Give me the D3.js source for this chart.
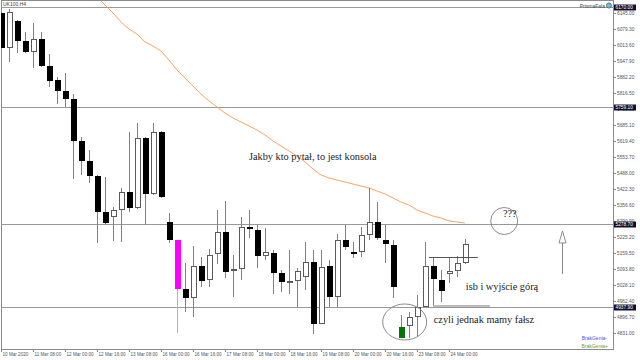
<!DOCTYPE html>
<html>
<head>
<meta charset="utf-8">
<script src="https://cdn.jsdelivr.net/npm/d3@7"></script>
<style>
body { margin: 0; background: #fff; }
svg { display: block; }
text { font-family: "Liberation Sans", Arial, sans-serif; }
text.note { font-family: "Liberation Serif", "Times New Roman", serif; }
</style>
</head>
<body>
<script>
// UK100,H4 candles, 10 Mar 16:00 .. 24 Mar 08:00
var open = [6145.0, 6001.3, 6112.2, 6030.1, 5984.9, 6038.3, 5927.4, 5869.9, 5824.8, 5791.9,
  5619.5, 5537.3, 5475.7, 5327.9, 5307.4, 5336.1, 5410.0, 5344.4, 5631.8, 5401.8,
  5656.4, 5286.9, 5212.9, 5011.8, 4974.8, 5106.2, 5048.7, 5155.5, 5245.8, 5085.7,
  5093.9, 5266.3, 5254.0, 5147.3, 5159.6, 5077.5, 5040.5, 5044.6, 5061.0, 5122.6,
  4868.1, 5106.2, 4978.9, 5212.9, 5165.7, 5163.7, 5233.5, 5286.9, 5212.9, 5192.4,
  4810.6, 4859.8, 4896.8, 4937.9, 5106.2, 5048.7, 5073.4, 5085.7, 5118.5];
var high = [6149.1, 6161.4, 6116.3, 6067.0, 6104.0, 6067.0, 5976.7, 5882.2, 5898.7, 5812.4,
  5635.9, 5582.5, 5479.9, 5471.6, 5348.5, 5426.5, 5656.4, 5693.4, 5635.9, 5693.4,
  5660.5, 5323.8, 5212.9, 5118.5, 5188.3, 5143.1, 5176.0, 5336.1, 5373.1, 5151.4,
  5307.4, 5336.1, 5274.5, 5262.2, 5171.9, 5089.8, 5171.9, 5098.0, 5204.7, 5171.9,
  5171.9, 5130.8, 5237.6, 5274.5, 5204.7, 5266.3, 5426.5, 5369.0, 5274.5, 5212.9,
  4905.0, 4917.3, 4987.1, 5204.7, 5143.1, 5089.8, 5143.1, 5147.3, 5217.1];
var low = [6000.0, 5943.8, 5980.8, 5980.8, 5919.2, 5925.0, 5841.2, 5771.4, 5759.1, 5463.4,
  5479.9, 5447.0, 5200.6, 5278.7, 5208.9, 5204.8, 5327.9, 5342.0, 5274.6, 5397.7,
  5387.0, 5200.6, 4831.1, 4917.3, 4896.8, 5020.0, 5020.0, 5114.4, 5056.9, 4978.9,
  5048.7, 5221.2, 5098.0, 5130.8, 4991.2, 4999.4, 4991.2, 4937.9, 5007.7, 4827.0,
  4866.0, 4937.9, 4937.9, 5171.9, 5139.1, 5143.1, 5212.9, 5212.9, 5118.5, 4974.8,
  4810.6, 4810.6, 4814.7, 4936.0, 4937.9, 4958.4, 5036.4, 5061.0, 5114.4];
var close = [6001.3, 6149.1, 6030.1, 5984.9, 6038.3, 5927.4, 5865.8, 5824.8, 5791.9, 5619.5,
  5537.3, 5475.7, 5327.9, 5282.8, 5336.1, 5410.0, 5344.4, 5631.8, 5401.8, 5656.4,
  5389.5, 5212.9, 5011.8, 4974.8, 5106.2, 5044.6, 5151.4, 5245.8, 5081.6, 5093.9,
  5266.3, 5258.1, 5147.3, 5163.7, 5077.5, 5040.5, 5044.6, 5085.7, 5122.6, 4868.1,
  5102.1, 4978.9, 5212.9, 5184.2, 5163.7, 5233.5, 5286.9, 5221.2, 5196.5, 5020.0,
  4855.7, 4896.8, 4937.9, 5106.2, 5052.8, 5003.6, 5085.7, 5118.5, 5196.5];

// moving average, starts at bar 12
var maStart = 12;
var ma = [6210.7, 6177.9, 6145.0, 6108.1, 6079.3, 6058.8, 6025.9, 6009.5, 5989.0, 5952.0,
  5911.0, 5878.1, 5845.3, 5812.4, 5783.7, 5759.1, 5734.4, 5713.9, 5697.5, 5681.0,
  5664.6, 5644.1, 5619.5, 5598.9, 5578.4, 5557.9, 5533.2, 5504.5, 5479.9, 5467.5,
  5459.3, 5451.1, 5442.9, 5434.7, 5426.5, 5414.2, 5401.8, 5385.4, 5369.0, 5356.7,
  5336.1, 5323.8, 5311.5, 5303.3, 5291.0, 5286.9, 5282.8];

var magentaBar = 22, greenBar = 50;

var levels = [6170.0, 5759.1, 5278.7, 4937.9];
var priceTicks = [6145.00, 6079.30, 6013.60, 5947.90, 5882.20, 5816.50, 5750.80, 5685.10,
  5619.40, 5553.70, 5488.00, 5422.30, 5356.60, 5290.90, 5225.20, 5159.50, 5093.80,
  5028.10, 4962.40, 4896.70, 4831.00];
var timeIdx = [0, 4, 8, 12, 16, 20, 24, 28, 32, 36, 40, 44, 48, 52, 56];
var timeLabels = ["10 Mar 2020", "11 Mar 08:00", "12 Mar 00:00", "12 Mar 16:00", "13 Mar 08:00",
  "16 Mar 00:00", "16 Mar 16:00", "17 Mar 08:00", "18 Mar 00:00", "18 Mar 16:00",
  "19 Mar 08:00", "20 Mar 00:00", "20 Mar 16:00", "23 Mar 08:00", "24 Mar 00:00"];

var svg = d3.select("body").append("svg").attr("width", 640).attr("height", 360);

var x = d3.scaleLinear().domain([0, 76.5]).range([1, 613]);
var y = d3.scaleLinear().domain([4765.4, 6194.3]).range([349, 1]);

svg.append("clipPath").attr("id", "plot")
  .append("rect").attr("x", 1).attr("y", 1).attr("width", 612).attr("height", 348);

// frame
svg.append("rect").attr("x", 1.5).attr("y", 0.5).attr("width", 612).attr("height", 349)
  .attr("fill", "none").attr("stroke", "#8a8a8a");

// horizontal levels
svg.selectAll("line.level").data(levels).enter().append("line")
  .attr("class", "level")
  .attr("x1", 1.5).attr("x2", 613.5)
  .attr("y1", function(d) { return Math.round(y(d)) + 0.5; })
  .attr("y2", function(d) { return Math.round(y(d)) + 0.5; })
  .attr("stroke", "#999").attr("stroke-width", 1);

var plot = svg.append("g").attr("clip-path", "url(#plot)");

// moving average
var maLine = d3.line()
  .x(function(d, i) { return x(i + maStart); })
  .y(function(d) { return y(d); });
plot.append("path").datum(ma)
  .attr("d", maLine)
  .attr("fill", "none").attr("stroke", "#f7a468").attr("stroke-width", 1);

// candles
var idx = d3.range(open.length);
function bull(i) { return close[i] > open[i] && i !== greenBar; }

plot.selectAll("line.wick").data(idx).enter().append("line")
  .attr("class", "wick")
  .attr("x1", function(i) { return x(i) + 0.5; })
  .attr("x2", function(i) { return x(i) + 0.5; })
  .attr("y1", function(i) { return Math.round(y(high[i])); })
  .attr("y2", function(i) { return Math.round(y(low[i])); })
  .attr("stroke", function(i) { return i === magentaBar ? "#ff7dff" : "#808080"; })
  .attr("stroke-width", 1);

plot.selectAll("rect.body").data(idx).enter().append("rect")
  .attr("class", "body")
  .attr("x", function(i) { return bull(i) ? x(i) - 1.5 : x(i) - 2; })
  .attr("width", function(i) { return bull(i) ? 5 : 6; })
  .attr("y", function(i) {
    var t = Math.round(y(Math.max(open[i], close[i])));
    return bull(i) ? t + 0.5 : t;
  })
  .attr("height", function(i) {
    var h = Math.round(Math.abs(y(open[i]) - y(close[i])));
    return bull(i) ? Math.max(h - 1, 1) : Math.max(h, 2);
  })
  .attr("fill", function(i) {
    if (i === magentaBar) return "#ff00ff";
    if (i === greenBar) return "#007800";
    return bull(i) ? "#fff" : "#000";
  })
  .attr("stroke", function(i) { return bull(i) ? "#5a5a5a" : "none"; })
  .attr("stroke-width", 1);

// annotations
var ann = svg.append("g").attr("fill", "none").attr("stroke", "#8c8c8c").attr("stroke-width", 1);
ann.append("circle").attr("cx", x(62.9)).attr("cy", y(5291.0)).attr("r", 13.5);
ann.append("ellipse").attr("cx", x(50.46)).attr("cy", y(4876.3)).attr("rx", 22).attr("ry", 18);
ann.append("line").attr("x1", x(53.5)).attr("x2", x(59.6))
  .attr("y1", Math.round(y(5141.9)) + 0.5).attr("y2", Math.round(y(5141.9)) + 0.5)
  .attr("stroke", "#555");
ann.append("line").attr("x1", x(54.0)).attr("x2", x(61.1))
  .attr("y1", y(4942.0)).attr("y2", y(4942.0))
  .attr("stroke", "#bbb").attr("stroke-width", 2);
var ax = Math.round(x(70.1)) + 0.5;
ann.append("line").attr("x1", ax).attr("x2", ax)
  .attr("y1", y(5073.3)).attr("y2", y(5220));
ann.append("path")
  .attr("d", "M" + ax + "," + y(5249.9) + "L" + (ax + 3.5) + "," + (y(5249.9) + 12) +
    "L" + (ax - 3.5) + "," + (y(5249.9) + 12) + "Z")
  .attr("fill", "#fff");

var notes = svg.append("g").attr("font-size", 10.3).attr("fill", "#222");
notes.append("text").attr("class", "note").attr("x", x(31.0)).attr("y", y(5539.4))
  .text("Jakby kto pytał, to jest konsola");
notes.append("text").attr("class", "note").attr("x", x(58.1)).attr("y", y(5007.7))
  .text("isb i wyjście górą");
notes.append("text").attr("class", "note").attr("x", x(54.1)).attr("y", y(4874.2))
  .text("czyli jednak mamy fałsz");
notes.append("text").attr("class", "note").attr("x", x(63.6)).attr("y", y(5307.4))
  .attr("text-anchor", "middle").text("???");

// price axis
svg.selectAll("line.ptick").data(priceTicks).enter().append("line")
  .attr("x1", 613.5).attr("x2", 616)
  .attr("y1", function(d) { return Math.round(y(d)) + 0.5; })
  .attr("y2", function(d) { return Math.round(y(d)) + 0.5; })
  .attr("stroke", "#888");
svg.selectAll("text.plabel").data(priceTicks).enter().append("text")
  .attr("x", 617).attr("y", function(d) { return y(d) + 1.7; })
  .attr("font-size", 4.8).attr("fill", "#555")
  .text(function(d) { return d.toFixed(2); });

// level tags
svg.selectAll("rect.tag").data(levels).enter().append("rect")
  .attr("x", 614).attr("width", 22)
  .attr("y", function(d) { return Math.round(y(d)) - 2.5; }).attr("height", 6)
  .attr("fill", "#10102e");
svg.selectAll("text.tag").data(levels).enter().append("text")
  .attr("x", 615.5).attr("y", function(d) { return Math.round(y(d)) + 2.2; })
  .attr("font-size", 4.8).attr("fill", "#fff")
  .text(function(d) { return d.toFixed(2); });

// time axis
svg.selectAll("line.ttick").data(timeIdx).enter().append("line")
  .attr("x1", function(i) { return x(i) + 0.5; })
  .attr("x2", function(i) { return x(i) + 0.5; })
  .attr("y1", 349).attr("y2", 352).attr("stroke", "#888");
svg.selectAll("text.tlabel").data(timeIdx).enter().append("text")
  .attr("x", function(i) { return x(i) + 1.5; }).attr("y", 356)
  .attr("font-size", 4.6).attr("fill", "#555")
  .text(function(d, k) { return timeLabels[k]; });

// header + legend
svg.append("text").attr("x", 3).attr("y", 5.5).attr("font-size", 5).attr("fill", "#444").text("UK100,H4");
svg.append("text").attr("x", 605).attr("y", 8).attr("text-anchor", "end")
  .attr("font-size", 5).attr("fill", "#444").text("PrismaFala");
svg.append("circle").attr("cx", 609).attr("cy", 5.5).attr("r", 2.6)
  .attr("fill", "#7fb2e5").attr("stroke", "#3a7a3a").attr("stroke-width", 0.8);
svg.append("text").attr("x", 607).attr("y", 340).attr("text-anchor", "end")
  .attr("font-size", 5).attr("fill", "#4d4dff").text("BrakGenia-");
svg.append("text").attr("x", 608).attr("y", 348).attr("text-anchor", "end")
  .attr("font-size", 5).attr("fill", "#6a9e2a").text("BrakGenia+");
</script>
</body>
</html>
